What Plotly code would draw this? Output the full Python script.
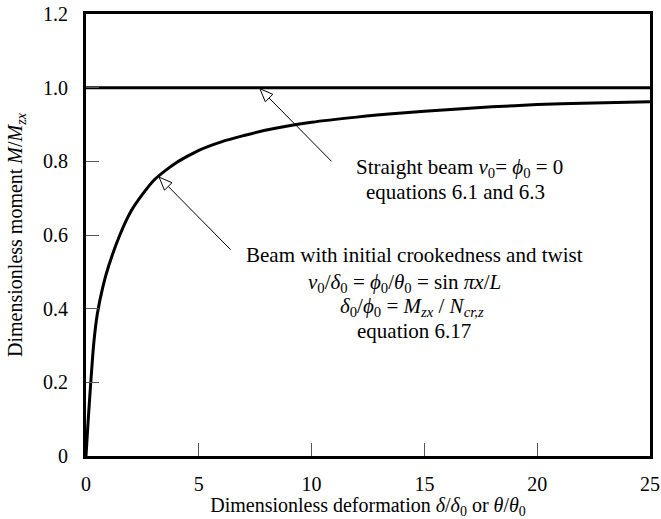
import math
import plotly.graph_objects as go

# ---- data ----
x_curve = [0, 0.03, 0.1, 0.2, 0.35, 0.5, 0.75, 1.0, 1.5, 2.0, 2.5, 3.0, 3.5, 4.0, 4.5,
           5.0, 6.0, 7.0, 8.0, 10.0, 12.0, 14.0, 16.0, 18.0, 20.0, 22.0, 25.0]
m_curve = [0, 0.03, 0.10, 0.19, 0.31, 0.385, 0.46, 0.515, 0.60, 0.665, 0.71, 0.748, 0.774, 0.796, 0.814,
           0.83, 0.853, 0.870, 0.885, 0.906, 0.920, 0.931, 0.940, 0.948, 0.954, 0.958, 0.962]
x_straight = [0, 25]
m_straight = [1.0, 1.0]

x_tickvals = [0, 5, 10, 15, 20, 25]
x_ticktext = ["0", "5", "10", "15", "20", "25"]
y_tickvals = [0, 0.2, 0.4, 0.6, 0.8, 1.0, 1.2]
y_ticktext = ["0", "0.2", "0.4", "0.6", "0.8", "1.0", "1.2"]

arrow_tip_x = [7.71, 3.24]
arrow_tip_y = [0.997, 0.757]

label_lines = [
    "Straight beam <i>v</i><sub>0</sub>= <i>ϕ</i><sub>0</sub> = 0",
    "equations 6.1 and 6.3",
    "Beam with initial crookedness and twist",
    "<i>v</i><sub>0</sub>/<i>δ</i><sub>0</sub> = <i>ϕ</i><sub>0</sub>/<i>θ</i><sub>0</sub> = sin <i>πx</i>/<i>L</i>",
    "<i>δ</i><sub>0</sub>/<i>ϕ</i><sub>0</sub> = <i>M</i><sub><i>zx</i></sub> / <i>N</i><sub><i>cr,z</i></sub>",
    "equation 6.17",
]
label_x = [16.55, 16.40, 14.54, 14.10, 14.47, 14.56]
label_y = [0.782, 0.718, 0.546, 0.470, 0.404, 0.340]

FONT = "Liberation Serif"
FS = 20
FS_ANN = 21

fig = go.Figure()
fig.add_trace(go.Scatter(x=x_straight, y=m_straight, mode="lines",
                         line=dict(color="black", width=3), showlegend=False, hoverinfo="skip"))
fig.add_trace(go.Scatter(x=x_curve, y=m_curve, mode="lines", line_shape="spline",
                         line=dict(color="black", width=3, smoothing=0.8),
                         showlegend=False, hoverinfo="skip"))

annotations = []
for t, xx, yy in zip(label_lines, label_x, label_y):
    annotations.append(dict(x=xx, y=yy, xref="x", yref="y", text=t, showarrow=False,
                            xanchor="center", yanchor="middle",
                            font=dict(family=FONT, size=FS_ANN, color="black")))

# arrows: shaft via annotation, hollow head via pixel-sized path shape
tail_dx, tail_dy = 73, 74  # screen pixels, down-right
head_len, head_half = 13, 5.3
ux, uy = tail_dx / math.hypot(tail_dx, tail_dy), -tail_dy / math.hypot(tail_dx, tail_dy)
px_, py_ = -uy, ux
bx, by = head_len * ux, head_len * uy
c1 = (bx + head_half * px_, by + head_half * py_)
c2 = (bx - head_half * px_, by - head_half * py_)
head_path = f"M0,0 L{c1[0]:.2f},{c1[1]:.2f} L{c2[0]:.2f},{c2[1]:.2f} Z"

shapes = []
for tx, ty in zip(arrow_tip_x, arrow_tip_y):
    annotations.append(dict(x=tx, y=ty, xref="x", yref="y", text="", showarrow=True,
                            arrowhead=0, arrowwidth=1, arrowcolor="black",
                            ax=tail_dx, ay=tail_dy, standoff=head_len))
    shapes.append(dict(type="path", xref="x", yref="y", xsizemode="pixel", ysizemode="pixel",
                       xanchor=tx, yanchor=ty, path=head_path, fillcolor="white",
                       line=dict(color="black", width=1), layer="above"))

fig.update_layout(
    width=661, height=519,
    margin=dict(l=86, r=11, t=14, b=63, autoexpand=False),
    paper_bgcolor="white", plot_bgcolor="white",
    font=dict(family=FONT, size=FS, color="black"),
    annotations=annotations, shapes=shapes,
    xaxis=dict(range=[0, 25], tickvals=x_tickvals, ticktext=x_ticktext,
               ticks="inside", ticklen=13, tickwidth=1, tickcolor="#555",
               showline=True, linecolor="black", linewidth=3, mirror=True,
               showgrid=False, zeroline=False, ticklabelstandoff=8, automargin=False,
               tickfont=dict(family=FONT, size=FS),
               title=dict(text="Dimensionless deformation <i>δ</i>/<i>δ</i><sub>0</sub> or <i>θ</i>/<i>θ</i><sub>0</sub>",
                          standoff=8, font=dict(family=FONT, size=FS))),
    yaxis=dict(range=[0, 1.2], tickvals=y_tickvals, ticktext=y_ticktext,
               ticks="inside", ticklen=13, tickwidth=1, tickcolor="#555",
               showline=True, linecolor="black", linewidth=3, mirror=True,
               showgrid=False, zeroline=False, ticklabelstandoff=11, automargin=False,
               tickfont=dict(family=FONT, size=FS),
               title=dict(text="Dimensionless moment <i>M</i>/<i>M</i><sub><i>zx</i></sub>",
                          standoff=16, font=dict(family=FONT, size=FS))),
)

fig.write_html("out.html", config={"displayModeBar": False},
               post_script="document.body.style.margin='0';document.body.style.overflow='hidden';")
